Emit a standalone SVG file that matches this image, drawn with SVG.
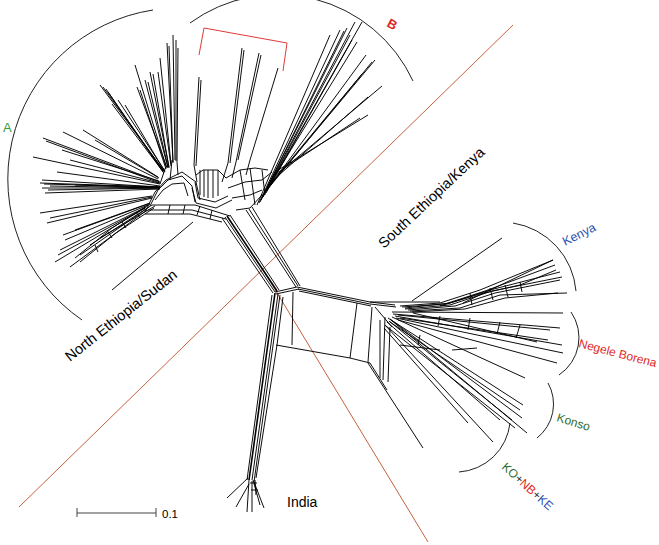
<svg xmlns="http://www.w3.org/2000/svg" width="659" height="545" viewBox="0 0 659 545">
<style>
.n{stroke:#000;stroke-width:0.95;fill:none;stroke-linejoin:round}
.tk{stroke:#000;stroke-width:1.6;fill:none}
.arc{stroke:#222;stroke-width:1;fill:none}
.split{stroke:#c4623e;stroke-width:1;fill:none}
text{font-family:"Liberation Sans",Arial,sans-serif}
</style>
<rect width="659" height="545" fill="#fff"/>
<g id="split-lines">
<path class="split" d="M19,507L513,25"/>
<path class="split" d="M262,268L428,542"/>
</g>
<g id="network">
<g id="cluster-A">
<path class="n" d="M100,85L163,170M103,87L164,171M106,89L163,171M108,92L163,172M112,104L164,173M118,100L165,171M135,65L166,166M137,87L167,168M140,90L166,169M150,72L169,167M153,74L169,168M158,72L171,166M145,80L168,168M148,82L168,167M125,105L165,172M167,43L173,162M169,46L173,163M173,35L175,160M178,48L177,162M160,58L171,164M176,40L176,161"/>
<path class="n" d="M33,157L160,184M43,138L160,182M46,141L160,183M63,132L158,179M83,130L158,177M95,140L159,178M57,172L160,186M42,180L160,187M44,184L160,187M42,188L160,188M45,193L160,189M48,190L160,188M75,185L160,188M62,150L159,181M40,183L160,187M50,186L160,188M70,160L159,183"/>
<path class="n" d="M40,213L152,196M47,223L152,198M55,262L145,208M70,267L147,210M60,250L146,207M65,240L148,205M80,255L149,207M75,230L150,203M90,245L152,205M100,238L155,206M58,255L145,208M50,218L152,197M63,235L148,204"/>
<path class="n" d="M75,258L112,228L150,204M80,262L116,233L154,208M95,245L98,252M108,232L112,238M122,222L126,228M136,212L140,218"/>
<path class="n" d="M145,212L155,192L166,180L182,172L196,182L200,200M150,206L158,190L168,180L182,176L192,186L195,202M155,200L163,190L172,184L184,183L188,196M160,184L166,166M170,180L172,160M178,175L177,162"/>
<path class="n" d="M145,214L190,214L222,222M148,210L192,210L226,219M152,205L195,205L230,216M170,205L168,214M185,205L183,214M200,206L197,215M212,210L210,219"/>
<path class="n" d="M193,222L112,290"/>
</g>
<g id="cluster-B">
<path class="n" d="M199,77L194,165L197,182M201,80L196,166M242,48L228,163L222,182M244,50L230,163M259,53L236,162L232,178M261,55L238,160M278,68L250,160L246,175"/>
<path class="n" d="M196,175L203,170L218,170L226,178M200,170L200,195M204,170L204,197M208,170L208,198M213,170L213,198M218,170L218,196M195,182L198,198L215,202L228,196M192,188L196,203L216,208L232,200"/>
<path class="n" d="M226,178L240,170L255,168L268,170M228,188L245,182L262,180L272,172M232,198L250,195L262,190M240,170L245,200M250,168L255,205M262,170L265,195M236,210L250,208L262,195"/>
<path class="n" d="M257,205L330,35M259,203L340,30M260,202L344,31M261,200L347,28M262,198L355,22M264,195L362,22M265,192L357,42M266,193L352,40M267,190L366,55M268,188L375,60M269,186L362,74M271,182L368,97M273,178L382,86M274,175L360,118M275,172L368,115M262,196L372,62M263,197L350,35"/>
</g>
<g id="trunk">
<path class="n" d="M222,218L273,293M225,217L275,292M230,215L279,290M246,210L296,287M249,209L298,286M252,207L300,286M275,292L297,287M276,294L299,289"/>
<path class="tk" d="M227,216L277,291"/>
</g>
<g id="india">
<path class="n" d="M272,295L247,480M278,294L252,480M280,295L254,482M283,297L277,345L256,478"/>
<path class="tk" d="M275,293L249,480"/>
<path class="n" d="M248,478L227,498M249,484L236,507M249,480L247,512M252,481L252,512M254,482L264,508M253,480L260,505M250,483L257,483M251,490L258,490M255,480L256,495"/>
</g>
<g id="right-branch">
<path class="n" d="M297,287L370,302L395,305M298,289L370,304L396,307M299,291L371,306M293,292L292,345M276,345L350,358L370,363L387,390M357,303L350,358M372,307L368,362M375,307L392,327M385,317L383,380M390,327L388,382M380,320L380,378"/>
</g>
<g id="cluster-south">
<path class="n" d="M370,302L412,302L440,302M412,301L502,238"/>
<path class="n" d="M400,306L440,303L480,290L553,260M402,307L445,304L485,291L555,265M405,308L450,303L490,290L560,272M405,309L450,305L492,291L562,277M408,310L455,306L495,293L560,280M410,311L460,308L500,295L567,293M412,312L465,309L505,298L558,293M440,306L480,294L520,285L556,270M463,303L553,260M470,293L472,305M490,288L493,300M505,285L508,297M520,282L522,292"/>
<path class="n" d="M392,312L563,313M393,314L560,328M395,316L562,345M396,318L563,353M398,320L557,363M400,318L548,340M398,315L550,330M413,313L537,342M440,316L438,326M470,318L468,330M500,322L497,334M520,325L516,338"/>
<path class="n" d="M388,318L523,405M390,319L522,418M391,320L527,433M389,321L512,420M392,317L525,378M387,322L500,420M385,325L493,442M384,328L468,423M386,326L515,428M390,322L520,410M368,363L423,448M400,345L440,350M452,350L477,348M420,335L418,345"/>
</g>
</g>
<g id="groups">
<path class="arc" d="M153,10A171,171 0 0 0 82,320"/>
<path class="arc" d="M190,23A149,149 0 0 1 413,81"/>
<path d="M199,55L204,28L287,43L283,71" fill="none" stroke="#e03a3a" stroke-width="1"/>
<path class="arc" d="M513,223A75,75 0 0 1 576,291"/>
<path class="arc" d="M571,312A45,45 0 0 1 559,375"/>
<path class="arc" d="M548,383A43,43 0 0 1 537,438"/>
<path class="arc" d="M510,423A55,55 0 0 1 459,472"/>
</g>
<g id="labels">
<text x="3" y="132" fill="#3a9a3a" font-size="13">A</text>
<text transform="translate(386,26) rotate(28)" fill="#e02a2a" font-weight="bold" font-size="13">B</text>
<text transform="translate(70,362) rotate(-38.3)" font-size="14.5" fill="#000">North Ethiopia/Sudan</text>
<text transform="translate(384,249) rotate(-43.3)" font-size="14.5" fill="#000">South Ethiopia/Kenya</text>
<text transform="translate(565,246) rotate(-26.6)" fill="#2b4fb0" font-size="12.5">Kenya</text>
<text transform="translate(578,347) rotate(14.6)" fill="#e02a2a" font-size="12">Negele Borena</text>
<text transform="translate(556,421) rotate(17)" fill="#2b6b2b" font-size="12">Konso</text>
<text transform="translate(501,468) rotate(42)" font-size="12"><tspan fill="#2b6b2b">KO</tspan><tspan fill="#333">+</tspan><tspan fill="#e02a2a">NB</tspan><tspan fill="#333">+</tspan><tspan fill="#2b4fb0">KE</tspan></text>
<text x="287" y="507" font-size="14" fill="#000">India</text>
</g>
<g id="scale">
<path d="M77,513L156,513M77,508L77,517M156,508L156,517" stroke="#444" stroke-width="1" fill="none"/>
<text x="162" y="518" font-size="11.5" fill="#000">0.1</text>
</g>
</svg>
